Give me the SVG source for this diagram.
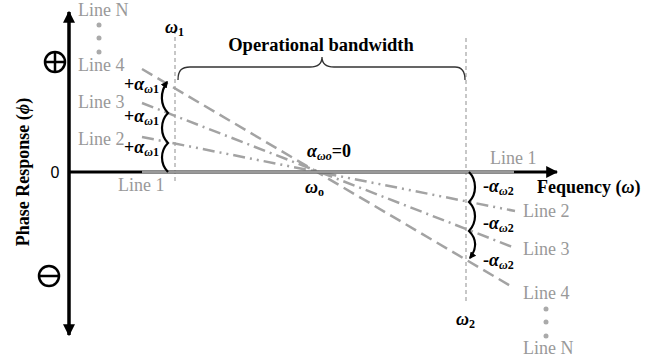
<svg xmlns="http://www.w3.org/2000/svg" width="668" height="363" viewBox="0 0 668 363">
<defs>
<marker id="ah" viewBox="0 0 10 10" refX="9" refY="5" markerWidth="4" markerHeight="4" orient="auto" markerUnits="strokeWidth"><path d="M0,0 L10,5 L0,10 z" fill="#000"/></marker>
<marker id="bh" viewBox="0 0 10 10" refX="8" refY="5" markerWidth="7" markerHeight="7" orient="auto" markerUnits="userSpaceOnUse"><path d="M0,0 L10,5 L0,10 z" fill="#000"/></marker>
<style>
text{font-family:"Liberation Serif",serif}
.g{font-size:18px;fill:#999}
.b{font-weight:bold;fill:#000}
.vl{stroke:#aaa;stroke-width:1.3;stroke-dasharray:4,3;fill:none}
.br{stroke:#000;stroke-width:2.2;fill:none}
.ln{stroke:#a3a3a3;stroke-width:2.5;fill:none}
.dot{fill:#aaa}
</style>
</defs>
<rect width="668" height="363" fill="#fff"/>
<g id="connectors">
<line x1="175" y1="30" x2="175" y2="182" class="vl"/>
<line x1="466" y1="38" x2="466" y2="304" class="vl"/>
<line x1="142" y1="69" x2="514" y2="288" class="ln" stroke-dasharray="12,6"/>
<line x1="142" y1="103" x2="515" y2="248" class="ln" stroke-dasharray="12,5,2,5"/>
<line x1="142" y1="137" x2="515" y2="211" class="ln" stroke-dasharray="12,5,2,5,2,5"/>
<line x1="69" y1="335" x2="69" y2="12" stroke="#000" stroke-width="3" marker-end="url(#ah)"/>
<line x1="69" y1="335" x2="69" y2="12" stroke="#000" stroke-width="3" marker-end="url(#ah)" transform="rotate(180 69 173.5)"/>
<line x1="69" y1="172" x2="557" y2="172" stroke="#000" stroke-width="3" marker-end="url(#ah)"/>
<line x1="142" y1="172" x2="514" y2="172" stroke="#999" stroke-width="3"/>
<path class="br" d="M168,172 C160,164 160,151 168,143 C160,135 160,121 168,113 C160,105 160,92 167,82" marker-end="url(#bh)"/>
<path class="br" d="M469,172 C477,180 477,194 469,202 C477,210 477,222 469,231 C477,239 477,249 470,258" marker-end="url(#bh)"/>
<path d="M178,80 C178,70 182,67 190,67 L310,67 C318,67 322,64 322,57 C322,64 326,67 334,67 L455,67 C461,67 465,70 465,80" stroke="#333" stroke-width="1.3" fill="none"/>
</g>
<g id="labels-left">
<text class="g" x="78" y="16">Line N</text>
<circle class="dot" cx="99" cy="25" r="2.5"/><circle class="dot" cx="99" cy="38" r="2.5"/><circle class="dot" cx="99" cy="52" r="2.5"/>
<text class="g" x="78" y="71">Line 4</text>
<text class="g" x="78" y="108">Line 3</text>
<text class="g" x="78" y="145">Line 2</text>
<text class="g" x="118" y="191">Line 1</text>
</g>
<g id="labels-right">
<text class="g" x="490" y="164">Line 1</text>
<text class="g" x="523" y="217">Line 2</text>
<text class="g" x="523" y="255">Line 3</text>
<text class="g" x="523" y="299">Line 4</text>
<circle class="dot" cx="546" cy="309" r="2.5"/><circle class="dot" cx="546" cy="322" r="2.5"/><circle class="dot" cx="546" cy="336" r="2.5"/>
<text class="g" x="523" y="354">Line N</text>
</g>
<g id="alpha-left" font-size="18">
<text class="b" x="124" y="90">+<tspan font-style="italic">α</tspan><tspan font-size="12" dy="3"><tspan font-style="italic">ω</tspan>1</tspan></text>
<text class="b" x="124" y="122">+<tspan font-style="italic">α</tspan><tspan font-size="12" dy="3"><tspan font-style="italic">ω</tspan>1</tspan></text>
<text class="b" x="124" y="153">+<tspan font-style="italic">α</tspan><tspan font-size="12" dy="3"><tspan font-style="italic">ω</tspan>1</tspan></text>
</g>
<g id="alpha-right" font-size="18">
<text class="b" x="483" y="192">-<tspan font-style="italic">α</tspan><tspan font-size="12" dy="3"><tspan font-style="italic">ω</tspan>2</tspan></text>
<text class="b" x="483" y="229">-<tspan font-style="italic">α</tspan><tspan font-size="12" dy="3"><tspan font-style="italic">ω</tspan>2</tspan></text>
<text class="b" x="483" y="266">-<tspan font-style="italic">α</tspan><tspan font-size="12" dy="3"><tspan font-style="italic">ω</tspan>2</tspan></text>
</g>
<g id="axis-labels">
<text class="b" font-size="18" transform="translate(29 172) rotate(-90)" text-anchor="middle">Phase Response (<tspan font-style="italic">ϕ</tspan>)</text>
<text x="55" y="178" style="font-family:'Liberation Sans',sans-serif" font-size="16" text-anchor="middle">0</text>
<text class="b" font-size="18" x="537" y="193">Fequency (<tspan font-style="italic">ω</tspan>)</text>
<text class="b" font-size="18.5" x="321" y="51" text-anchor="middle">Operational bandwidth</text>
<text class="b" font-size="18" x="165" y="33"><tspan font-style="italic">ω</tspan><tspan font-size="12" dy="3">1</tspan></text>
<text class="b" font-size="18" x="456" y="325"><tspan font-style="italic">ω</tspan><tspan font-size="12" dy="3">2</tspan></text>
<text class="b" font-size="18" x="305" y="193"><tspan font-style="italic">ω</tspan><tspan font-size="12" dy="3">o</tspan></text>
<text class="b" font-size="18" x="307" y="157"><tspan font-style="italic">α</tspan><tspan font-size="12" dy="3"><tspan font-style="italic">ωo</tspan></tspan><tspan dy="-3">=0</tspan></text>
</g>
<g id="signs" stroke="#000" stroke-width="2.5" fill="none">
<circle cx="55" cy="62" r="10"/><line x1="45" y1="62" x2="65" y2="62"/><line x1="55" y1="52" x2="55" y2="72"/>
<circle cx="49" cy="276" r="10"/><line x1="39" y1="276" x2="59" y2="276"/>
</g>
</svg>
